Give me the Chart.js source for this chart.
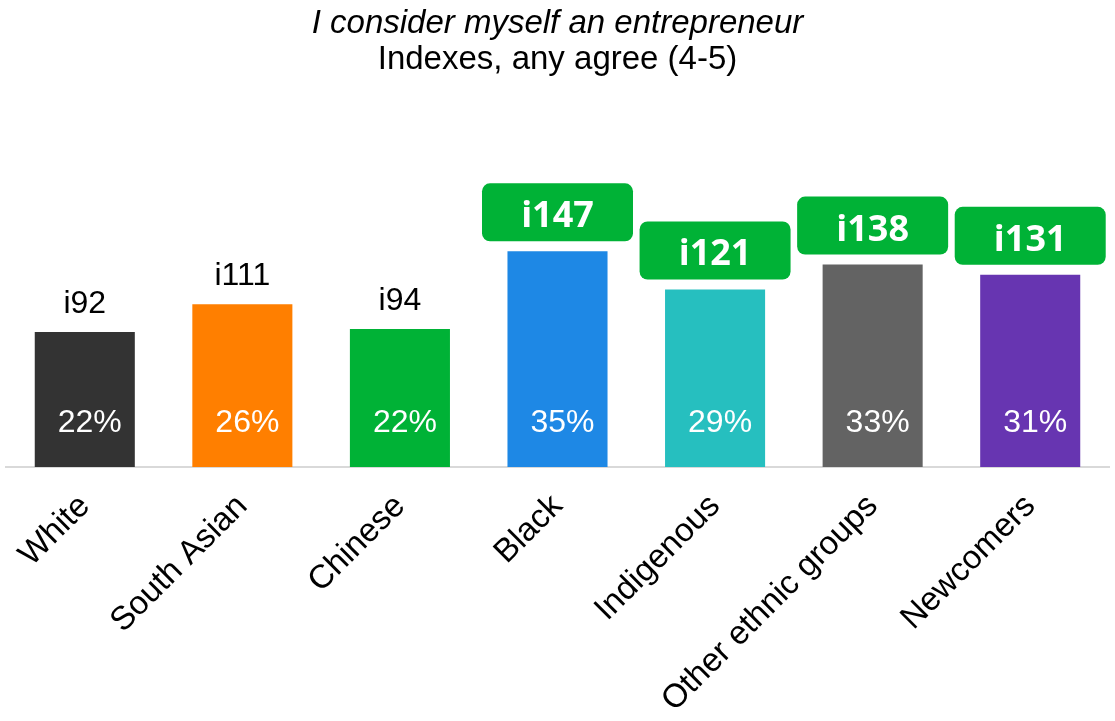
<!DOCTYPE html>
<html>
<head>
<meta charset="utf-8">
<title>I consider myself an entrepreneur</title>
<script src="https://cdn.jsdelivr.net/npm/chart.js@4.4.1/dist/chart.umd.min.js"></script>
<style>
  body { margin: 0; background: #fff; }
  #wrap { width: 1115px; height: 721px; }
</style>
</head>
<body>
<div id="wrap"><canvas id="entChart"></canvas></div>
<script>
const groups = ['White', 'South Asian', 'Chinese', 'Black', 'Indigenous', 'Other ethnic groups', 'Newcomers'];
const indexes = [92, 111, 94, 147, 121, 138, 131];
const agreePct = [22, 26, 22, 35, 29, 33, 31];
const barColors = ['#333333', '#ff7f00', '#00b236', '#1e88e5', '#26bfbf', '#636363', '#6735b1'];
const badgeFrom = 120; // indexes at or above this get the green badge

Chart.defaults.font.family = '"Liberation Sans", Arial, sans-serif';
Chart.defaults.color = '#000';

// index above each bar (badge for the high ones) and % share inside the bar
const valueLabels = {
  id: 'valueLabels',
  afterDatasetsDraw(chart) {
    const ctx = chart.ctx;
    const meta = chart.getDatasetMeta(0);
    const base = chart.scales.y.getPixelForValue(0);
    ctx.save();
    ctx.textAlign = 'center';
    meta.data.forEach((bar, i) => {
      ctx.fillStyle = '#fff';
      ctx.font = '32px "Liberation Sans"';
      ctx.textBaseline = 'middle';
      ctx.fillText(agreePct[i] + '%', bar.x + 5, base - 44);

      const label = 'i' + indexes[i];
      ctx.textBaseline = 'alphabetic';
      if (indexes[i] >= badgeFrom) {
        const w = 151, h = 58, bottom = bar.y - 10;
        ctx.fillStyle = '#00b236';
        ctx.beginPath();
        ctx.roundRect(bar.x - w / 2, bottom - h, w, h, 8);
        ctx.fill();
        ctx.fillStyle = '#fff';
        ctx.font = 'bold 36px "Open Sans"';
        ctx.fillText(label, bar.x, bottom - 14);
      } else {
        ctx.fillStyle = '#000';
        ctx.font = '32px "Liberation Sans"';
        ctx.fillText(label, bar.x, bar.y - 19);
      }
    });
    ctx.restore();
  }
};

new Chart(document.getElementById('entChart'), {
  type: 'bar',
  data: {
    labels: groups,
    datasets: [{
      data: indexes,
      backgroundColor: barColors,
      barPercentage: 0.635,
      categoryPercentage: 1
    }]
  },
  options: {
    responsive: true,
    maintainAspectRatio: false,
    animation: false,
    layout: { padding: { left: 6, right: 6 } },
    plugins: {
      legend: { display: false },
      tooltip: { enabled: false },
      title: {
        display: true,
        text: 'I consider myself an entrepreneur',
        color: '#000',
        font: { size: 33, style: 'italic', weight: 'normal' },
        padding: { top: 4, bottom: 0 }
      },
      subtitle: {
        display: true,
        text: 'Indexes, any agree (4-5)',
        color: '#000',
        font: { size: 33, weight: 'normal' },
        padding: { top: -3, bottom: 93.4 }
      }
    },
    scales: {
      y: { display: false, min: 0, max: 200 },
      x: {
        grid: { display: false },
        border: { display: true, color: '#d9d9d9', width: 2 },
        ticks: { color: '#000', font: { size: 33 }, minRotation: 45, maxRotation: 45, padding: 12 },
        afterFit(scale) { scale.height = 254; }
      }
    }
  },
  plugins: [valueLabels]
});
</script>
</body>
</html>
